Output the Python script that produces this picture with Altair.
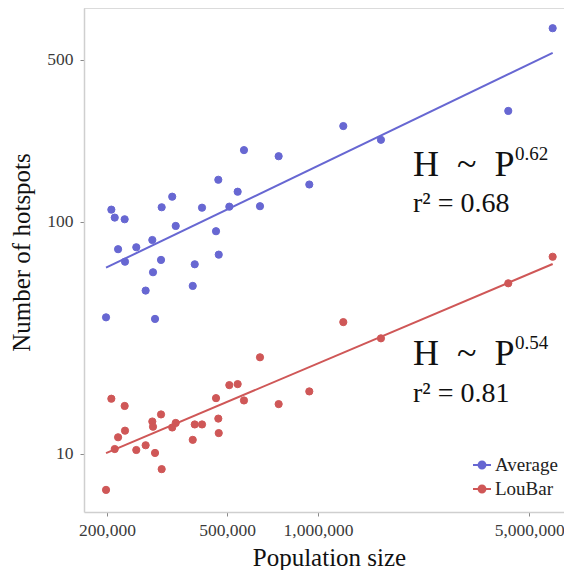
import altair as alt
import pandas as pd

# ---- data ----
population = [198500, 206700, 212100, 217600, 228800, 229400, 250000, 268500,
              282500, 284000, 288400, 301900, 303400, 328800, 337700, 384500,
              390400, 412700, 459200, 467300, 468800, 508200, 541600, 568300,
              642100, 740300, 935200, 1212000, 1615000, 4264000, 5982000]
average_hotspots = [38.8, 113.0, 104.4, 76.3, 102.7, 67.4, 77.8, 50.6,
                    83.6, 60.7, 38.2, 68.6, 115.7, 128.5, 96.1, 53.0,
                    65.7, 115.2, 91.2, 152.0, 72.3, 116.4, 135.0, 204.0,
                    116.9, 192.0, 145.0, 259.0, 226.0, 301.0, 684.0]
loubar_hotspots = [7.0, 17.3, 10.5, 11.8, 16.1, 12.6, 10.4, 10.9,
                   13.8, 13.1, 10.1, 14.8, 8.6, 13.0, 13.6, 11.5,
                   13.4, 13.4, 17.4, 14.2, 12.3, 19.8, 20.0, 17.0,
                   26.1, 16.4, 18.6, 37.0, 31.5, 54.4, 70.8]
series_names = ["Average", "LouBar"]
series_colors = ["#6767d2", "#cf5757"]
x_ticks = [200000, 500000, 1000000, 5000000]
y_ticks = [10, 100, 500]
law_text = ["H\u2002~\u2002P", "H\u2002~\u2002P"]
exponents = ["0.62", "0.54"]
r2_text = ["r\u00b2 = 0.68", "r\u00b2 = 0.81"]

n = len(population)
df = pd.DataFrame({
    "population": population * 2,
    "hotspots": average_hotspots + loubar_hotspots,
    "series": [series_names[0]] * n + [series_names[1]] * n,
})

FONT = "Liberation Serif"
W, H = 480, 504
xscale = alt.Scale(type="log", domain=[167800, 6522000], nice=False)
yscale = alt.Scale(type="log", domain=[5.62, 836], nice=False)
cscale = alt.Scale(domain=series_names, range=series_colors)

legend_path = "M-1,0L1,0M0.38,0A0.38,0.38,0,1,1,-0.38,0A0.38,0.38,0,1,1,0.38,0Z"
leg = alt.Legend(title=None, orient="none", legendX=388, legendY=447,
                 symbolType=legend_path, symbolSize=324, symbolStrokeWidth=2,
                 labelFont=FONT, labelFontSize=19, labelColor="#222222",
                 labelOffset=3, rowPadding=4, padding=0)

xaxis = alt.Axis(values=x_ticks, format=",d", title="Population size",
                 titleX=245, titleY=53, titleBaseline="alphabetic",
                 titleAlign="center", labelPadding=5)
yaxis = alt.Axis(values=y_ticks, format="d", title="Number of hotspots",
                 titleX=-55, titleY=244, titleAngle=270,
                 titleBaseline="alphabetic", titleAlign="center",
                 labelPadding=7)

points = alt.Chart(df).mark_circle(size=52, opacity=1, strokeWidth=1).encode(
    x=alt.X("population:Q", scale=xscale, axis=xaxis),
    y=alt.Y("hotspots:Q", scale=yscale, axis=yaxis),
    color=alt.Color("series:N", scale=cscale, legend=leg),
    stroke=alt.Stroke("series:N", scale=cscale, legend=leg),
)

lines = alt.Chart(df).transform_calculate(
    lx="log(datum.population)", ly="log(datum.hotspots)"
).transform_regression(
    "lx", "ly", groupby=["series"]
).transform_calculate(
    population="exp(datum.lx)", hotspots="exp(datum.ly)"
).mark_line(strokeWidth=2).encode(
    x=alt.X("population:Q", scale=xscale),
    y=alt.Y("hotspots:Q", scale=yscale),
    color=alt.Color("series:N", scale=cscale, legend=leg),
)

top_border = alt.Chart(pd.DataFrame({"a": [0]})).mark_rule(
    color="#cfcfcf", strokeWidth=1.5
).encode(x=alt.value(0), x2=alt.value(W), y=alt.value(0))


def txt(s, x, y, size):
    return alt.Chart(pd.DataFrame({"t": [s]})).mark_text(
        font=FONT, fontSize=size, align="left", baseline="alphabetic",
        color="#111111"
    ).encode(text="t:N", x=alt.value(x), y=alt.value(y))


ann = [
    txt(law_text[0], 329, 168, 36),
    txt(exponents[0], 431, 152, 19),
    txt(r2_text[0], 329, 204, 28),
    txt(law_text[1], 329, 357, 36),
    txt(exponents[1], 431, 341, 19),
    txt(r2_text[1], 329, 394, 28),
]

chart = alt.layer(points, lines, top_border, *ann).properties(
    width=W, height=H,
    autosize=alt.AutoSizeParams(type="none"),
    padding={"left": 76, "top": 0, "right": 0, "bottom": 58},
).configure_view(stroke=None).configure_axis(
    grid=False,
    labelFont=FONT, labelFontSize=17.5, labelColor="#3a3a3a",
    titleFont=FONT, titleFontSize=25, titleColor="#111111", titleFontWeight="normal",
    domainColor="#cfcfcf", domainWidth=1.5,
    tickColor="#8a8a8a", tickSize=4, tickWidth=1,
)

chart.save("out.html", embed_options={"renderer": "svg", "actions": False})
